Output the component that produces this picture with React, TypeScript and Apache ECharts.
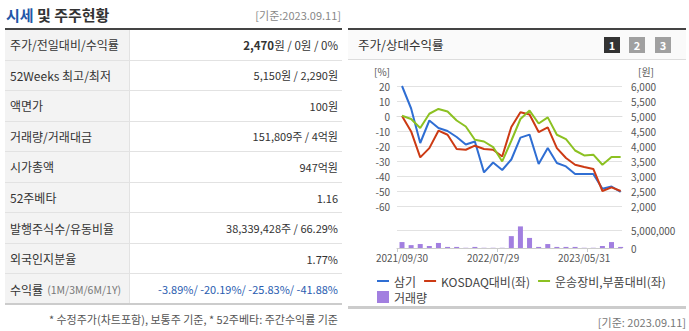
import React, { useEffect, useRef } from "react";
import * as echarts from "echarts";

const FONT = "'Noto Sans CJK KR', 'Noto Sans', sans-serif";

// ---- chart data (monthly) ----
const dates = [
  "2021/09/30", "2021/10/29", "2021/11/30", "2021/12/30", "2022/01/28", "2022/02/28",
  "2022/03/31", "2022/04/29", "2022/05/31", "2022/06/30", "2022/07/29", "2022/08/31",
  "2022/09/30", "2022/10/31", "2022/11/30", "2022/12/29", "2023/01/31", "2023/02/28",
  "2023/03/31", "2023/04/28", "2023/05/31", "2023/06/30", "2023/07/31", "2023/08/31",
  "2023/09/11",
];
const labelIdx = [0, 10, 20];
const priceWon = [
  6000, 5250, 4100, 4850, 4600, 4500, 4300, 4050, 4150, 3120, 3450, 3200, 3550,
  4280, 4380, 3400, 3935, 3435, 3320, 3065, 3065, 3065, 2575, 2650, 2470,
];
const kosdaqRel = [
  0, -10.3, -27.6, -21.4, -9.8, -12.5, -22, -22.5, -19.8, -22, -22.5, -27, -7.3,
  2.5, 1, -10.7, -7.6, -21.4, -28, -32.5, -34, -35.3, -50, -47.6, -50,
];
const sectorRel = [
  0.2, -2, -8, 1.5, 4.7, 3, -3, -7, -15.8, -17, -20.7, -30.3, -16.5, -2, 3.6, -5,
  -0.9, -12.5, -15.4, -23, -26.3, -25.8, -32.5, -27.4, -27.4,
];
const volume = [
  1650000, 800000, 1100000, 550000, 1400000, 300000, 300000, 60000, 300000, 60000,
  60000, 60000, 3300000, 6000000, 2800000, 300000, 1100000, 300000, 300000, 300000,
  60000, 60000, 550000, 1650000, 300000,
];
const seriesNames = ["삼기", "KOSDAQ대비(좌)", "운송장비,부품대비(좌)", "거래량"];

// ---- table data ----
const infoLabels = [
  "주가/전일대비/수익률", "52Weeks 최고/최저", "액면가", "거래량/거래대금", "시가총액",
  "52주베타", "발행주식수/유동비율", "외국인지분율", "수익률",
];
const infoValues = [
  "2,470원 / 0원 / 0%", "5,150원 / 2,290원", "100원", "151,809주 / 4억원", "947억원",
  "1.16", "38,339,428주 / 66.29%", "1.77%", "-3.89%/ -20.19%/ -25.83%/ -41.88%",
];

const BLUE = "#2f6ed3";
const RED = "#cc3a14";
const GREEN = "#8cc122";
const PURPLE = "#a27fe0";
const LINE_ICON = "path://M0,0H12V2H0Z";

function Chart() {
  const ref = useRef<HTMLDivElement>(null);
  useEffect(() => {
    if (!ref.current) return;
    const chart = echarts.init(ref.current, undefined, { renderer: "svg" });
    const xMin = -0.55;
    const xMax = 24.15;
    const lbl = { color: "#555", fontSize: 10, fontFamily: FONT };
    const fmt = (v: number) => Number(v).toLocaleString("en-US");
    chart.setOption({
      animation: false,
      textStyle: { fontFamily: FONT },
      grid: [
        { left: 397, right: 67, top: 86, height: 120 },
        { left: 397, right: 67, top: 212, height: 36 },
      ],
      xAxis: [
        {
          type: "value", gridIndex: 0, min: xMin, max: xMax, offset: 2,
          axisLine: { show: true, lineStyle: { color: "#ddd" } },
          axisTick: { show: false }, axisLabel: { show: false }, splitLine: { show: false },
        },
        {
          type: "value", gridIndex: 1, min: xMin, max: xMax,
          axisLine: { show: true, lineStyle: { color: "#ccc" } },
          axisTick: { show: true, length: 4, customValues: [xMin, 10.45, 20.35], lineStyle: { color: "#ccc" } },
          axisLabel: { ...lbl, margin: 4, customValues: labelIdx, formatter: (v: number) => dates[Math.round(v)] },
          splitLine: { show: false },
        },
      ],
      yAxis: [
        {
          type: "value", gridIndex: 0, position: "left", min: -60, max: 20, interval: 10,
          axisLine: { show: false }, axisTick: { show: false },
          axisLabel: { ...lbl, margin: 7 },
          splitLine: { lineStyle: { color: "#e2e2e2" } },
        },
        {
          type: "value", gridIndex: 0, position: "right", min: 2000, max: 6000, interval: 500,
          axisLine: { show: false }, axisTick: { show: false },
          axisLabel: { ...lbl, margin: 9, formatter: fmt },
          splitLine: { show: false },
        },
        {
          type: "value", gridIndex: 1, position: "right", min: 0, max: 10000000, interval: 5000000,
          axisLine: { show: false }, axisTick: { show: false },
          axisLabel: { ...lbl, margin: 9, formatter: fmt, showMaxLabel: false },
          splitLine: { lineStyle: { color: "#e2e2e2" }, showMinLine: false, showMaxLine: false },
        },
      ],
      legend: [
        {
          left: 372, top: 270, itemWidth: 12, itemHeight: 12, itemGap: 8,
          textStyle: { fontSize: 12, color: "#444", fontFamily: FONT },
          data: [
            { name: seriesNames[0], icon: LINE_ICON },
            { name: seriesNames[1], icon: LINE_ICON },
            { name: seriesNames[2], icon: LINE_ICON },
          ],
        },
        {
          left: 372, top: 286, itemWidth: 12, itemHeight: 12,
          textStyle: { fontSize: 12, color: "#444", fontFamily: FONT },
          data: [{ name: seriesNames[3], icon: "rect" }],
        },
      ],
      graphic: [
        { type: "text", x: 390, y: 71, style: { text: "[%]", align: "right", verticalAlign: "middle", fill: "#555", fontSize: 10, fontFamily: FONT } },
        { type: "text", x: 654, y: 71, style: { text: "[원]", align: "right", verticalAlign: "middle", fill: "#555", fontSize: 10, fontFamily: FONT } },
      ],
      series: [
        {
          name: seriesNames[0], type: "line", xAxisIndex: 0, yAxisIndex: 1, symbol: "none",
          data: priceWon.map((v, i) => [i, v]),
          lineStyle: { width: 2, color: BLUE }, itemStyle: { color: BLUE },
        },
        {
          name: seriesNames[1], type: "line", xAxisIndex: 0, yAxisIndex: 0, symbol: "none",
          data: kosdaqRel.map((v, i) => [i, v]),
          lineStyle: { width: 2, color: RED }, itemStyle: { color: RED },
        },
        {
          name: seriesNames[2], type: "line", xAxisIndex: 0, yAxisIndex: 0, symbol: "none",
          data: sectorRel.map((v, i) => [i, v]),
          lineStyle: { width: 2, color: GREEN }, itemStyle: { color: GREEN },
        },
        {
          name: seriesNames[3], type: "bar", xAxisIndex: 1, yAxisIndex: 2, barWidth: 5,
          data: volume.map((v, i) => [i, v]),
          itemStyle: { color: PURPLE },
        },
      ],
    });
    return () => chart.dispose();
  }, []);
  return <div ref={ref} style={{ position: "absolute", left: 0, top: 0, width: 689, height: 331 }} />;
}

export default function App() {
  const rowH = 30.55;
  const abs = (s: React.CSSProperties): React.CSSProperties => ({ position: "absolute", ...s });
  return (
    <div style={abs({ left: 0, top: 0, width: 689, height: 331, background: "#fff", overflow: "hidden", fontFamily: FONT, color: "#333" })}>
      {/* left panel */}
      <div style={abs({ left: 6, top: 5, fontSize: 15, fontWeight: 700, lineHeight: "20px", whiteSpace: "nowrap" })}>
        <span style={{ color: "#2357a8" }}>시세</span> 및 주주현황
      </div>
      <div style={abs({ right: 689 - 341, top: 7, fontSize: 11, lineHeight: "16px", color: "#888", whiteSpace: "nowrap" })}>[기준:2023.09.11]</div>
      <div style={abs({ left: 5, top: 28, width: 337, height: 2, background: "#444" })} />
      {infoLabels.map((lab, i) => {
        const top = 30 + i * rowH;
        const last = i === infoLabels.length - 1;
        return (
          <div key={i} style={abs({ left: 5, top, width: 337, height: rowH, borderBottom: last ? "2px solid #ccc" : "1px solid #e2e2e2", boxSizing: "border-box" })}>
            <div style={abs({ left: 0, top: 0, width: 125, height: "100%", background: "#f3f3f3", borderRight: "1px solid #e2e2e2", boxSizing: "border-box" })} />
            <div style={abs({ left: 5, top: 0, height: rowH - 1, display: "flex", alignItems: "center", fontSize: 12, whiteSpace: "nowrap", color: "#333" })}>
              {lab}
              {last && <span style={{ fontSize: 10.5, color: "#777", marginLeft: 4 }}>(1M/3M/6M/1Y)</span>}
            </div>
            <div style={abs({ right: 4, top: 0, height: rowH - 1, display: "flex", alignItems: "center", fontSize: 11, whiteSpace: "nowrap", color: last ? "#2a5db0" : "#333" })}>
              {i === 0 ? (
                <span style={{ fontSize: 11.5 }}><b>2,470</b>원 / 0원 / 0%</span>
              ) : (
                infoValues[i]
              )}
            </div>
          </div>
        );
      })}
      <div style={abs({ right: 689 - 338, top: 311, fontSize: 11, lineHeight: "16px", color: "#555", whiteSpace: "nowrap" })}>
        * 수정주가(차트포함), 보통주 기준, * 52주베타: 주간수익률 기준
      </div>

      {/* right panel */}
      <div style={abs({ left: 348, top: 28, width: 338, height: 2, background: "#444" })} />
      <div style={abs({ left: 348, top: 30, width: 338, height: 30, background: "#fafafa", borderBottom: "1px solid #ddd", boxSizing: "border-box" })} />
      <div style={abs({ left: 358, top: 36, fontSize: 12.5, lineHeight: "18px", color: "#333", whiteSpace: "nowrap" })}>주가/상대수익률</div>
      {["1", "2", "3"].map((t, i) => (
        <div key={t} style={abs({ left: [604, 629, 655][i], top: 37, width: 16, height: 16, background: i === 0 ? "#333" : "#a0a0a0", color: "#fff", fontSize: 11, fontWeight: 700, lineHeight: "16px", textAlign: "center" })}>{t}</div>
      ))}
      <div style={abs({ left: 348, top: 306, width: 338, height: 3, background: "#ccc" })} />
      <div style={abs({ right: 3, top: 314, fontSize: 11, lineHeight: "16px", color: "#777", whiteSpace: "nowrap" })}>[기준: 2023.09.11]</div>

      <Chart />
    </div>
  );
}
